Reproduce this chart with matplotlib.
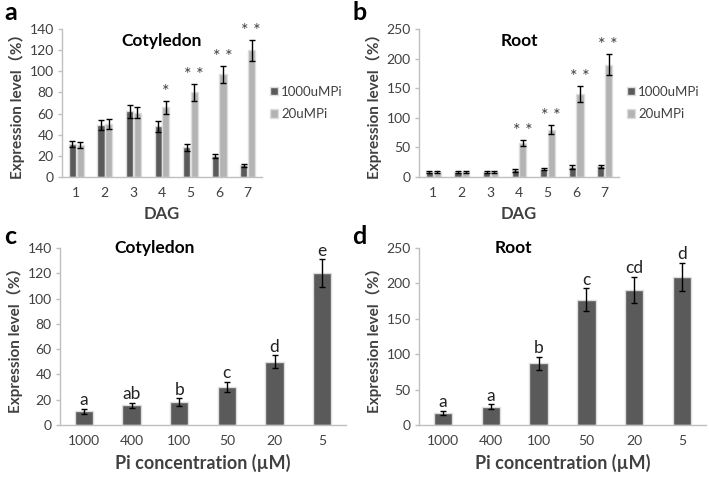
import numpy as np
import matplotlib
matplotlib.use("Agg")
import matplotlib.pyplot as plt

plt.rcParams['font.family'] = ['Lato', 'Noto Sans CJK SC', 'DejaVu Sans']

# données
dag = ['1', '2', '3', '4', '5', '6', '7']
conc = ['1000', '400', '100', '50', '20', '5']

cot_1000 = [31, 49, 62, 48, 28, 20, 11]
cot_1000_err = [3, 5, 6, 5, 3, 2, 1.5]
cot_20 = [30, 50, 61, 66, 80, 97, 120]
cot_20_err = [3, 5, 5, 6, 8, 8, 10]
cot_stars = ['', '', '', '*', '**', '**', '**']

root_1000 = [8, 8, 8, 11, 13, 17, 18]
root_1000_err = [2, 2, 2, 2, 2, 3, 3]
root_20 = [8, 8, 8, 58, 80, 140, 190]
root_20_err = [2, 2, 2, 5, 7, 13, 17]
root_stars = ['', '', '', '**', '**', '**', '**']

cot_pi = [11, 15.5, 18, 30, 50, 120]
cot_pi_err = [2, 2, 3, 4, 5, 11]
cot_letters = ['a', 'ab', 'b', 'c', 'd', 'e']

root_pi = [17, 26, 87, 177, 191, 209]
root_pi_err = [3, 3, 9, 16, 18, 20]
root_letters = ['a', 'a', 'b', 'c', 'cd', 'd']

DARK = '#5a5a5a'
LIGHT = '#b3b3b3'
EDGE = '#dedede'
AXC = '#bfbfbf'
TXT = '#404040'

W, H = 709, 479
fig = plt.figure(figsize=(W / 100, H / 100), dpi=100)


def box(x0, x1, ytop, ybot):
    return [x0 / W, 1 - ybot / H, (x1 - x0) / W, (ybot - ytop) / H]


def style(ax, ymax, step):
    for s in ['top', 'right']:
        ax.spines[s].set_visible(False)
    for s in ['left', 'bottom']:
        ax.spines[s].set_color(AXC)
        ax.spines[s].set_linewidth(1)
    ax.set_ylim(0, ymax)
    ax.set_yticks(np.arange(0, ymax + 1, step))
    ax.tick_params(axis='y', colors=AXC, labelcolor=TXT, labelsize=10, length=3, width=1, pad=3)
    ax.tick_params(axis='x', length=0, labelcolor=TXT, labelsize=10, pad=7)
    ax.set_ylabel('Expression level（%）', fontsize=11, fontweight='bold', color=TXT, labelpad=3)


def time_panel(rect, title, a_vals, a_err, b_vals, b_err, stars, ymax, step, off):
    ax = fig.add_axes(rect)
    x = np.arange(1, len(dag) + 1)
    w = 0.25
    eb = dict(ecolor='black', capsize=2.5, elinewidth=1, capthick=1)
    ax.bar(x - w / 2 - 0.01, a_vals, w, yerr=a_err, color=DARK, edgecolor=EDGE,
           linewidth=1, error_kw=eb, label='1000uMPi')
    ax.bar(x + w / 2 + 0.01, b_vals, w, yerr=b_err, color=LIGHT, edgecolor=EDGE,
           linewidth=1, error_kw=eb, label='20uMPi')
    for xi, v, e, s in zip(x, b_vals, b_err, stars):
        if s:
            ax.text(xi + w / 2, v + e + off, ' '.join(s), ha='center', va='bottom',
                    fontsize=13, color=TXT)
    ax.set_xlim(0.5, len(dag) + 0.5)
    ax.set_xticks(x)
    ax.set_xticklabels(dag)
    style(ax, ymax, step)
    ax.set_xlabel('DAG', fontsize=12, fontweight='bold', color=TXT, labelpad=5)
    ax.text(0.5, 0.97, title, transform=ax.transAxes, ha='center', va='top',
            fontsize=12.5, fontweight='bold', color='black')
    leg = ax.legend(loc='center left', bbox_to_anchor=(1.04, 0.5), frameon=False,
                    fontsize=9.5, handlelength=0.6, handleheight=0.6, handletextpad=0.25,
                    labelspacing=0.8, borderaxespad=0, borderpad=0)
    for t in leg.get_texts():
        t.set_color(TXT)
    return ax


def conc_panel(rect, title, vals, err, letters, ymax, step, off):
    ax = fig.add_axes(rect)
    x = np.arange(1, len(conc) + 1)
    eb = dict(ecolor='black', capsize=2.5, elinewidth=1, capthick=1)
    ax.bar(x, vals, 0.38, yerr=err, color=DARK, edgecolor=EDGE, linewidth=1, error_kw=eb)
    for xi, v, e, s in zip(x, vals, err, letters):
        ax.text(xi, v + e + off, s, ha='center', va='bottom', fontsize=12.5, color='#222222')
    ax.set_xlim(0.5, len(conc) + 0.5)
    ax.set_xticks(x)
    ax.set_xticklabels(conc)
    style(ax, ymax, step)
    ax.set_xlabel('Pi concentration (µM)', fontsize=13, fontweight='bold', color=TXT, labelpad=5)
    ax.text(0.33, 1.0, title, transform=ax.transAxes, ha='center', va='center',
            fontsize=12.5, fontweight='bold', color='black')
    return ax


time_panel(box(62, 262, 29, 177), 'Cotyledon', cot_1000, cot_1000_err, cot_20, cot_20_err,
           cot_stars, 140, 20, 1)
time_panel(box(419, 619, 29, 177), 'Root', root_1000, root_1000_err, root_20, root_20_err,
           root_stars, 250, 50, 2)
conc_panel(box(60, 346, 248, 425), 'Cotyledon', cot_pi, cot_pi_err, cot_letters, 140, 20, 0.5)
conc_panel(box(419, 706, 248, 425), 'Root', root_pi, root_pi_err, root_letters, 250, 50, 1)

for lab, px, py in [('a', 4, 1), ('b', 352, 1), ('c', 4, 225), ('d', 352, 225)]:
    fig.text(px / W, 1 - py / H, lab, ha='left', va='top', fontsize=18, fontweight='bold')

fig.savefig('out.png', dpi=100)
